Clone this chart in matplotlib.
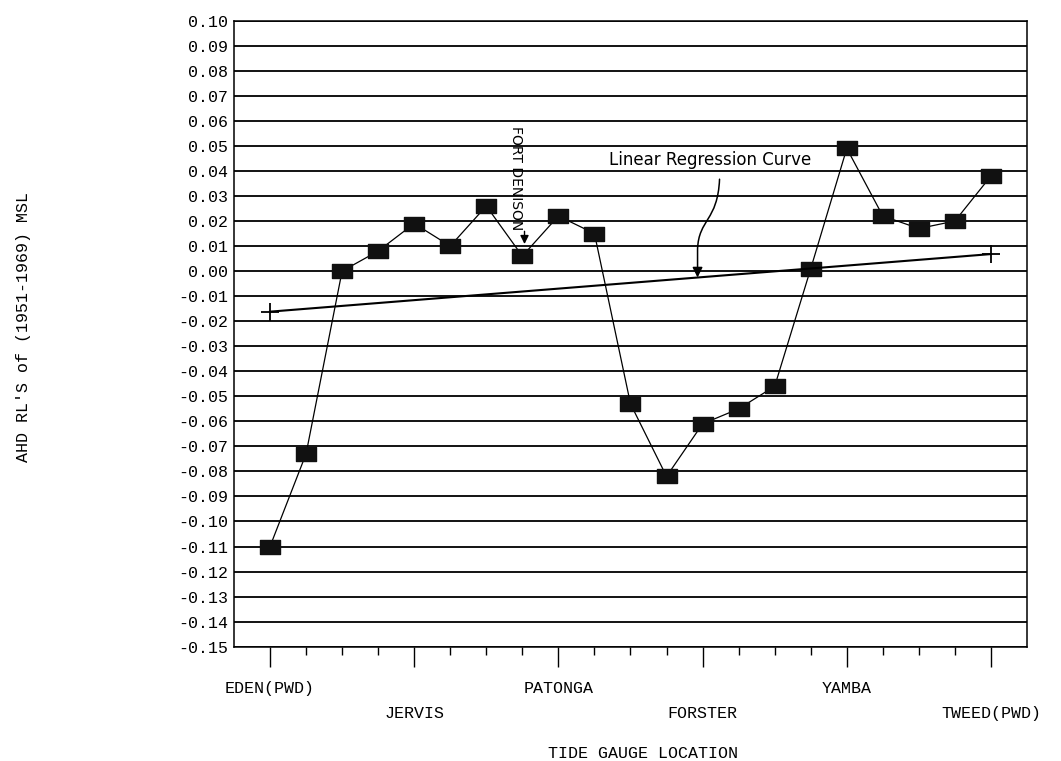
import numpy as np
import matplotlib.pyplot as plt
from matplotlib.path import Path
from matplotlib.patches import FancyArrowPatch
from matplotlib.ticker import FixedLocator, FuncFormatter, NullFormatter

# values
gauge_index = list(range(21))
ahd_rl = [-0.110, -0.073, 0.000, 0.008, 0.019, 0.010, 0.026, 0.006, 0.022, 0.015,
          -0.053, -0.082, -0.061, -0.055, -0.046, 0.001, 0.049, 0.022, 0.017, 0.020, 0.038]
regress_x = [0, 20]
regress_y = [-0.0162, 0.0068]
label_index = [0, 4, 8, 12, 16, 20]
label_names = ["EDEN(PWD)", "JERVIS", "PATONGA", "FORSTER", "YAMBA", "TWEED(PWD)"]
fort_denison = 7

mono = "Liberation Mono"
hand = "DejaVu Sans"

fig = plt.figure(figsize=(10.61, 7.61), dpi=100)
ax = fig.add_axes([0.2205, 0.1502, 0.7475, 0.8226])

# wide rectangle marker
rect = Path([(-1, -0.72), (1, -0.72), (1, 0.72), (-1, 0.72), (-1, -0.72)],
            [Path.MOVETO, Path.LINETO, Path.LINETO, Path.LINETO, Path.CLOSEPOLY])

ax.plot(gauge_index, ahd_rl, color="black", lw=0.9, marker=rect, ms=14,
        mfc="#111111", mec="#111111", zorder=3)
ax.plot(regress_x, regress_y, color="black", lw=1.5, marker="+", ms=13, mew=1.3, zorder=3)

ax.set_xlim(-1, 21)
ax.set_ylim(-0.15, 0.10)

yticks = np.round(np.arange(-0.15, 0.1001, 0.01), 2)
ax.set_yticks(yticks)
ax.yaxis.set_major_formatter(FuncFormatter(lambda v, p: f"{v + 0.0:.2f}"))
ax.tick_params(axis="y", length=0, pad=4, labelsize=12)
for t in ax.get_yticklabels():
    t.set_fontfamily(mono)
ax.grid(axis="y", color="black", lw=1.3)
ax.set_axisbelow(True)

ax.xaxis.set_major_locator(FixedLocator(label_index))
ax.xaxis.set_minor_locator(FixedLocator([i for i in gauge_index if i not in label_index]))
ax.xaxis.set_major_formatter(NullFormatter())
ax.tick_params(axis="x", which="major", direction="out", length=14.5, width=1)
ax.tick_params(axis="x", which="minor", direction="out", length=6, width=1)

for s in ax.spines.values():
    s.set_linewidth(1.1)

xt = ax.get_xaxis_transform()
for k, (i, name) in enumerate(zip(label_index, label_names)):
    ypos = -0.0665 if k % 2 == 0 else -0.106
    ax.text(i, ypos, name, transform=xt, ha="center", va="center",
            fontsize=12, family=mono)

ax.text(0.516, -0.170, "TIDE GAUGE LOCATION", transform=ax.transAxes,
        ha="center", va="center", fontsize=12, family=mono)
fig.text(0.022, 0.570, "AHD RL'S of (1951-1969) MSL", rotation=90,
         ha="center", va="center", fontsize=12, family=mono)

# handwritten notes
ax.text(12.22, 0.0443, "Linear Regression Curve", ha="center", va="center",
        fontsize=12, family=hand)
tip_x = 11.86
tip_y = np.interp(tip_x, regress_x, regress_y)
arrow_path = Path([(12.47, 0.0367), (12.42, 0.020), (11.89, 0.0208), (tip_x, 0.0088), (tip_x, tip_y)],
                  [Path.MOVETO, Path.CURVE4, Path.CURVE4, Path.CURVE4, Path.LINETO])
ax.add_patch(FancyArrowPatch(path=arrow_path, arrowstyle="-|>,head_length=6,head_width=3",
                             color="black", lw=1.1, zorder=4))

ax.text(fort_denison - 0.17, 0.0373, "FORT DENISON", rotation=-90, ha="center", va="center",
        fontsize=10, family=hand)
ax.annotate("", xy=(fort_denison + 0.06, ahd_rl[fort_denison] + 0.0037),
            xytext=(fort_denison + 0.06, 0.017),
            arrowprops=dict(arrowstyle="-|>,head_length=0.5,head_width=0.25", color="black", lw=1))

fig.savefig("out.png", dpi=100)
